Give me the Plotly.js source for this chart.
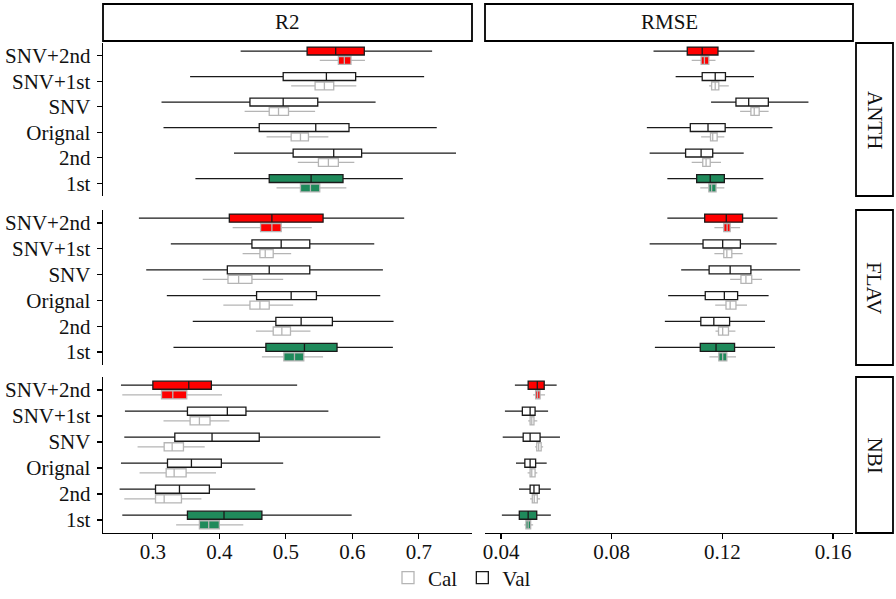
<!DOCTYPE html>
<html>
<head>
<meta charset="utf-8">
<script src="https://cdn.plot.ly/plotly-3.0.1.min.js"></script>
<style>html,body{margin:0;padding:0;background:#fff}#chart{width:896px;height:599px}</style>
</head>
<body>
<div id="chart"></div>
<script>
// Categories (bottom to top)
const methods = ["1st", "2nd", "Orignal", "SNV", "SNV+1st", "SNV+2nd"];
const metrics = ["R2", "RMSE"];
const traits = ["ANTH", "FLAV", "NBI"];
const sets = ["Cal", "Val"];

// Each row: [lower whisker, Q1, median, Q3, upper whisker], rows in `methods` order
const R2_ANTH_Val = [[0.364,0.475,0.538,0.586,0.676],[0.422,0.511,0.572,0.614,0.756],[0.316,0.460,0.545,0.595,0.727],[0.313,0.446,0.496,0.548,0.635],[0.356,0.496,0.561,0.605,0.708],[0.432,0.532,0.575,0.618,0.720]];
const R2_ANTH_Cal = [[0.486,0.522,0.537,0.551,0.591],[0.518,0.549,0.564,0.579,0.603],[0.471,0.508,0.522,0.534,0.564],[0.438,0.475,0.489,0.504,0.544],[0.508,0.544,0.558,0.572,0.606],[0.551,0.579,0.588,0.598,0.619]];
const RMSE_ANTH_Val = [[0.1001,0.1107,0.1156,0.1207,0.1348],[0.0937,0.1067,0.1123,0.1165,0.1277],[0.0927,0.1084,0.1148,0.1210,0.1381],[0.1159,0.1249,0.1295,0.1366,0.1511],[0.1031,0.1127,0.1174,0.1211,0.1314],[0.0951,0.1073,0.1127,0.1184,0.1316]];
const RMSE_ANTH_Cal = [[0.1120,0.1151,0.1161,0.1177,0.1207],[0.1089,0.1129,0.1141,0.1156,0.1195],[0.1123,0.1157,0.1165,0.1181,0.1207],[0.1264,0.1303,0.1315,0.1333,0.1367],[0.1152,0.1161,0.1174,0.1187,0.1223],[0.1089,0.1123,0.1135,0.1151,0.1175]];
const R2_FLAV_Val = [[0.331,0.470,0.528,0.577,0.661],[0.360,0.485,0.523,0.570,0.662],[0.321,0.456,0.508,0.546,0.642],[0.290,0.412,0.475,0.536,0.646],[0.327,0.449,0.493,0.536,0.633],[0.279,0.415,0.479,0.556,0.678]];
const R2_FLAV_Cal = [[0.464,0.497,0.513,0.527,0.556],[0.455,0.481,0.494,0.507,0.537],[0.406,0.446,0.461,0.475,0.511],[0.375,0.413,0.429,0.449,0.496],[0.435,0.461,0.469,0.481,0.508],[0.420,0.462,0.479,0.493,0.539]];
const RMSE_FLAV_Val = [[0.0956,0.1120,0.1177,0.1244,0.1390],[0.0992,0.1122,0.1169,0.1226,0.1354],[0.1004,0.1138,0.1207,0.1255,0.1367],[0.1051,0.1152,0.1228,0.1303,0.1481],[0.0937,0.1130,0.1201,0.1265,0.1396],[0.1001,0.1136,0.1214,0.1273,0.1399]];
const RMSE_FLAV_Cal = [[0.1153,0.1187,0.1201,0.1216,0.1249],[0.1175,0.1186,0.1201,0.1222,0.1247],[0.1174,0.1213,0.1228,0.1249,0.1289],[0.1228,0.1267,0.1285,0.1306,0.1343],[0.1171,0.1205,0.1216,0.1234,0.1273],[0.1171,0.1205,0.1217,0.1228,0.1264]];
const R2_NBI_Val = [[0.254,0.352,0.407,0.464,0.599],[0.250,0.304,0.340,0.385,0.454],[0.252,0.322,0.358,0.403,0.496],[0.257,0.333,0.389,0.460,0.642],[0.258,0.352,0.412,0.440,0.564],[0.252,0.300,0.354,0.388,0.517]];
const R2_NBI_Cal = [[0.335,0.370,0.384,0.400,0.436],[0.257,0.304,0.317,0.343,0.373],[0.280,0.320,0.332,0.350,0.395],[0.277,0.317,0.329,0.346,0.378],[0.316,0.356,0.370,0.386,0.415],[0.254,0.313,0.330,0.351,0.404]];
const RMSE_NBI_Val = [[0.0403,0.0466,0.0498,0.0529,0.0580],[0.0465,0.0505,0.0519,0.0538,0.0580],[0.0454,0.0486,0.0505,0.0525,0.0565],[0.0406,0.0480,0.0505,0.0541,0.0613],[0.0414,0.0477,0.0505,0.0523,0.0570],[0.0450,0.0498,0.0531,0.0556,0.0601]];
const RMSE_NBI_Cal = [[0.0484,0.0490,0.0498,0.0507,0.0516],[0.0505,0.0513,0.0520,0.0531,0.0541],[0.0496,0.0505,0.0511,0.0523,0.0531],[0.0523,0.0529,0.0536,0.0545,0.0552],[0.0498,0.0505,0.0511,0.0519,0.0531],[0.0516,0.0525,0.0532,0.0541,0.0559]];

const R2_ticks = [0.3, 0.4, 0.5, 0.6, 0.7];
const RMSE_ticks = [0.04, 0.08, 0.12, 0.16];

const dataTable = {
  R2:   {ANTH: {Cal: R2_ANTH_Cal, Val: R2_ANTH_Val}, FLAV: {Cal: R2_FLAV_Cal, Val: R2_FLAV_Val}, NBI: {Cal: R2_NBI_Cal, Val: R2_NBI_Val}},
  RMSE: {ANTH: {Cal: RMSE_ANTH_Cal, Val: RMSE_ANTH_Val}, FLAV: {Cal: RMSE_FLAV_Cal, Val: RMSE_FLAV_Val}, NBI: {Cal: RMSE_NBI_Cal, Val: RMSE_NBI_Val}}
};

// ---------- styling / layout ----------
const W = 896, H = 599;
const FONT = "Liberation Serif, Times New Roman, serif";
const colPx = [[103, 472], [485, 853]];
const rowPx = [[43, 196], [210, 365], [377, 533]];
const xRanges = {R2: [0.225, 0.78], RMSE: [0.0342, 0.1672]};
const xTicks = {R2: R2_ticks, RMSE: RMSE_ticks};
const fillFor = m => m === "SNV+2nd" ? "#ff0000" : (m === "1st" ? "#1f8a5b" : "#ffffff");
const lineFor = {Cal: "#b5b5b5", Val: "#1a1a1a"};

const traces = [];
const layout = {
  width: W, height: H,
  margin: {l: 0, r: 0, t: 0, b: 0},
  paper_bgcolor: "#fff", plot_bgcolor: "rgba(0,0,0,0)",
  font: {family: FONT, size: 21, color: "#111"},
  boxmode: "group", boxgap: 0.26, boxgroupgap: 0.16,
  showlegend: true,
  legend: {orientation: "h", x: 462 / W, xanchor: "center", y: 1 - 578 / H, yanchor: "middle",
           bgcolor: "rgba(0,0,0,0)",
           font: {family: FONT, size: 21, color: "#111"}, itemwidth: 30, tracegroupgap: 0},
  shapes: [], annotations: []
};

traits.forEach((trait, r) => {
  metrics.forEach((metric, c) => {
    const n = r * 2 + c + 1;
    const xa = "x" + (n === 1 ? "" : n), ya = "y" + (n === 1 ? "" : n);
    const bottom = r === traits.length - 1, left = c === 0;
    layout["xaxis" + (n === 1 ? "" : n)] = {
      domain: [colPx[c][0] / W, colPx[c][1] / W], range: xRanges[metric], anchor: ya,
      showgrid: false, zeroline: false, fixedrange: true,
      showline: bottom, linecolor: "#000", linewidth: 1.4,
      ticks: bottom ? "outside" : "", ticklen: 5, tickwidth: 1.2, tickcolor: "#000",
      showticklabels: bottom, tickvals: xTicks[metric], ticktext: xTicks[metric].map(String),
      ticklabelstandoff: -6,
      tickfont: {family: FONT, size: 21, color: "#111"}
    };
    layout["yaxis" + (n === 1 ? "" : n)] = {
      domain: [1 - rowPx[r][1] / H, 1 - rowPx[r][0] / H], anchor: xa,
      type: "category", categoryorder: "array", categoryarray: methods, range: [-0.5, methods.length - 0.5],
      showgrid: false, zeroline: false, fixedrange: true,
      showline: left, linecolor: "#000", linewidth: 1.4,
      ticks: left ? "outside" : "", ticklen: 5, tickwidth: 1.2, tickcolor: "#000",
      showticklabels: left, ticklabelstandoff: 2,
      tickfont: {family: FONT, size: 21, color: "#111"}
    };
    sets.forEach(set => {
      const rows = dataTable[metric][trait][set];
      methods.forEach((m, i) => {
        const v = rows[i];
        const isLegend = (n === 1 && m === "Orignal");
        traces.push({
          type: "box", orientation: "h", xaxis: xa, yaxis: ya,
          y: [m], lowerfence: [v[0]], q1: [v[1]], median: [v[2]], q3: [v[3]], upperfence: [v[4]],
          boxpoints: false, whiskerwidth: 0,
          fillcolor: fillFor(m), line: {color: lineFor[set], width: 1.3},
          offsetgroup: set, alignmentgroup: "p" + n,
          name: set, legendgroup: set, showlegend: isLegend, hoverinfo: "x"
        });
      });
    });
  });
});

// Facet strips (top)
metrics.forEach((metric, c) => {
  layout.shapes.push({type: "rect", xref: "paper", yref: "paper",
    x0: colPx[c][0] / W, x1: colPx[c][1] / W, y0: 1 - 41 / H, y1: 1 - 4 / H,
    line: {color: "#000", width: 1.8}, fillcolor: "#fff"});
  layout.annotations.push({xref: "paper", yref: "paper", x: (colPx[c][0] + colPx[c][1]) / 2 / W, y: 1 - 22.5 / H,
    text: metric, showarrow: false, xanchor: "center", yanchor: "middle", font: {family: FONT, size: 21, color: "#111"}});
});
// Facet strips (right)
traits.forEach((trait, r) => {
  layout.shapes.push({type: "rect", xref: "paper", yref: "paper",
    x0: 856 / W, x1: 893 / W, y0: 1 - rowPx[r][1] / H, y1: 1 - rowPx[r][0] / H,
    line: {color: "#000", width: 1.8}, fillcolor: "#fff"});
  layout.annotations.push({xref: "paper", yref: "paper", x: 874.5 / W, y: 1 - (rowPx[r][0] + rowPx[r][1]) / 2 / H,
    text: trait, textangle: 90, showarrow: false, xanchor: "center", yanchor: "middle", font: {family: FONT, size: 21, color: "#111"}});
});

Plotly.newPlot("chart", traces, layout, {staticPlot: true, displayModeBar: false});
</script>
</body>
</html>
